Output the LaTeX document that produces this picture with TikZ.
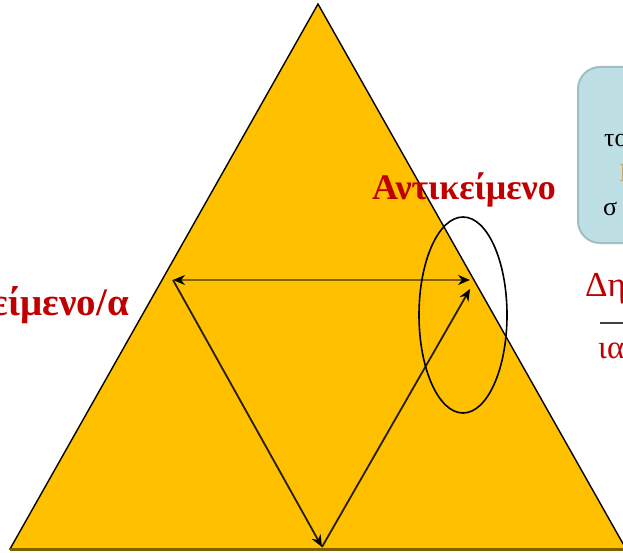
\documentclass[tikz,border=0pt]{standalone}
\usepackage{fontspec}
\setmainfont{Liberation Serif}
\usepackage{tikz}
\usetikzlibrary{arrows.meta, calc}
\definecolor{cGold}{RGB}{255,192,0}
\definecolor{cDarkRed}{RGB}{192,0,0}
\definecolor{cBrown}{RGB}{128,96,0}
\definecolor{cPanel}{RGB}{190,224,228}
\definecolor{cPanelEdge}{RGB}{160,190,195}
\definecolor{cTan}{RGB}{200,160,90}
\tikzset{
	tri/.style     ={fill=cGold, draw=black, line width=1.4pt, line join=miter},
	redlbl/.style  ={text=cDarkRed, inner sep=0pt, font=\fontsize{36}{40}\selectfont\bfseries},
	redthin/.style ={text=cDarkRed, inner sep=0pt, font=\fontsize{35}{40}\selectfont},
	notelbl/.style ={inner sep=0pt, font=\fontsize{26}{30}\selectfont},
	panel/.style   ={fill=cPanel, draw=cPanelEdge, line width=2pt, rounded corners=22pt},
	link/.style    ={-{Stealth[length=12pt, width=10pt, black]}, line width=1.8pt, draw=black!70!cBrown},
	hlink/.style   ={{Stealth[length=12pt, width=10pt, black]}-{Stealth[length=12pt, width=10pt, black]}, line width=2.8pt, draw=cBrown},
	focus/.style   ={draw=black, line width=1.6pt},
}
\begin{document}
\begin{tikzpicture}[x=1pt, y=-1pt]
	\useasboundingbox (0,0) rectangle (623,553);
	% triangle corners
	\coordinate (apex) at (318,4);
	\coordinate (bl) at (10,549);
	\coordinate (br) at (626,549);
	\draw[tri] (apex) -- (bl) -- (br) -- cycle;
	\draw[cBrown, line width=3pt] (bl) -- (br);
	% side panel
	\draw[panel] (578,67) rectangle (740,243);
	\node[notelbl, anchor=base west] (ntA) at (604,147) {το};
	\node[notelbl, anchor=base west, text=cTan] (ntB) at (619,182) {Ι};
	\node[notelbl, anchor=base west] (ntC) at (603,215) {σ};
	% arrows inside the triangle
	\coordinate (pL) at (173,280);
	\coordinate (pR) at (470,280);
	\coordinate (pB) at (322,547);
	\coordinate (pU) at (470,289);
	\draw[hlink] (pL) -- (pR);
	\draw[link] (pL) -- (pB);
	\draw[link] (pB) -- (pU);
	\draw[focus] (463,315) ellipse [x radius=44, y radius=98];
	% labels
	\node[redlbl, anchor=base west] (obj) at (372,200) {Αντικείμενο};
	\node[redlbl, anchor=base east, font=\fontsize{39}{42}\selectfont\bfseries] (subj) at (129,315) {Υποκείμενο/α};
	\node[redthin, anchor=base west] (numr) at (585,296) {Δη};
	\node[redthin, anchor=base west, font=\fontsize{33}{38}\selectfont] (denr) at (598,358) {ια};
	\coordinate (barL) at (600,323);
	\coordinate (barR) at (640,323);
	\draw[black!75, line width=2pt] (barL) -- (barR);
\end{tikzpicture}
\end{document}
